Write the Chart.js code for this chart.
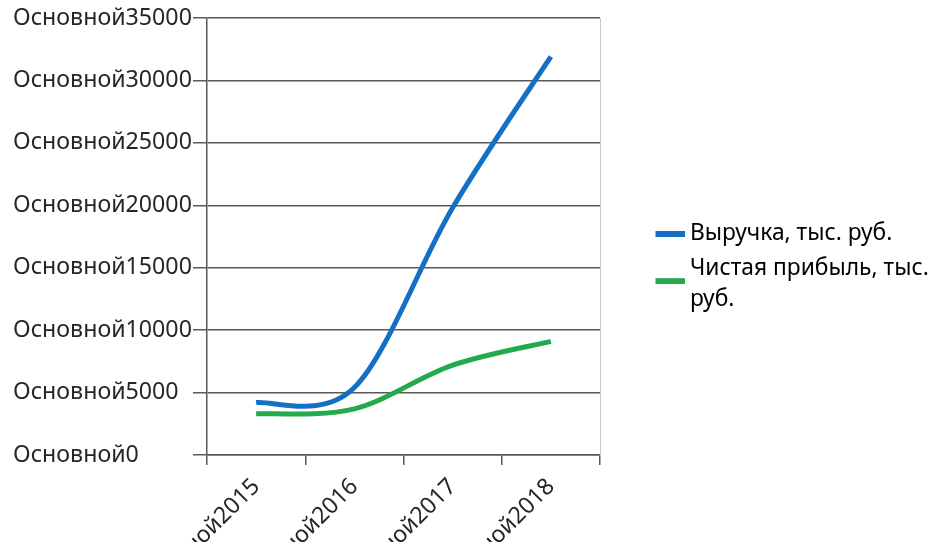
<!DOCTYPE html>
<html>
<head>
<meta charset="utf-8">
<script src="https://cdn.jsdelivr.net/npm/chart.js@4"></script>
<style>
  html, body { margin: 0; padding: 0; background: #fff; }
  #wrap { width: 933px; height: 542px; }
</style>
</head>
<body>
<div id="wrap"><canvas id="c" width="933" height="542"></canvas></div>
<script>
// Years on the category axis
const years = ['Основной2015', 'Основной2016', 'Основной2017', 'Основной2018'];
// Revenue, thousand roubles
const revenue = [4200, 5400, 19800, 31900];
// Net profit, thousand roubles
const netProfit = [3300, 3700, 7200, 9100];
// Value axis tick prefix and legend lines
const tickPrefix = 'Основной';
const revenueLabel = ['Выручка, тыс. руб.'];
const profitLabel = ['Чистая прибыль, тыс.', 'руб.'];

const FONT = 'Noto Sans';
const FONT_SIZE = 23.2;
const LEGEND_SIZE = 22.8;
const TEXT = '#262626';
const gridColor = '#595959';
const blue = '#1470c4';
const green = '#22aa4c';

// Small legend swatch: a short thick line, optionally pushed down
function swatch(color, drop) {
  const c = document.createElement('canvas');
  c.width = 33;
  c.height = 6 + 2 * drop;
  const g = c.getContext('2d');
  g.fillStyle = color;
  g.fillRect(0, drop * 2, 33, 6);
  return c;
}

// Fixed legend column width and a slightly raised legend block
const legendPlacement = {
  id: 'legendPlacement',
  beforeLayout(chart) {
    const lg = chart.legend;
    if (lg && !lg._fixedWidth) {
      const fit = lg.fit;
      lg.fit = function () {
        fit.call(this);
        this.width = 277.5;
      };
      lg._fixedWidth = true;
    }
  },
  afterLayout(chart) {
    if (chart.legend) chart.legend.bottom -= 18;
  }
};

// Uniform Catmull-Rom smoothing of the line through its scaled points
const uniformSpline = {
  id: 'uniformSpline',
  beforeDatasetsDraw(chart) {
    chart.getSortedVisibleDatasetMetas().forEach((meta) => {
      const line = meta.dataset;
      const pts = meta.data;
      if (!line || pts.length < 2) return;
      line.updateControlPoints(chart.chartArea, meta.iScale.axis);
      for (let i = 0; i < pts.length; i++) {
        const p = pts[i];
        const prev = pts[i - 1] || p;
        const next = pts[i + 1] || p;
        const tx = (next.x - prev.x) / 6;
        const ty = (next.y - prev.y) / 6;
        p.cp1x = p.x - tx;
        p.cp1y = p.y - ty;
        p.cp2x = p.x + tx;
        p.cp2y = p.y + ty;
      }
      line._path = undefined;
    });
  }
};

new Chart(document.getElementById('c'), {
  type: 'line',
  data: {
    labels: years,
    datasets: [
      {
        label: revenueLabel.join(' '),
        legendLines: revenueLabel,
        legendDrop: 0,
        data: revenue,
        borderColor: blue,
        backgroundColor: blue,
        borderWidth: 5,
        pointRadius: 0,
        tension: 0.4,
        yAxisID: 'y'
      },
      {
        label: profitLabel.join(' '),
        legendLines: profitLabel,
        legendDrop: 13,
        data: netProfit,
        borderColor: green,
        backgroundColor: green,
        borderWidth: 5,
        pointRadius: 0,
        tension: 0.4,
        yAxisID: 'y'
      }
    ]
  },
  plugins: [legendPlacement, uniformSpline],
  options: {
    responsive: false,
    animation: false,
    layout: { padding: { top: 18, left: 13, right: 0, bottom: 0 } },
    plugins: {
      tooltip: { enabled: false },
      legend: {
        position: 'right',
        labels: {
          usePointStyle: true,
          pointStyleWidth: 20,
          boxHeight: 6,
          padding: 3,
          color: TEXT,
          font: { family: FONT, size: LEGEND_SIZE, lineHeight: 1.38 },
          generateLabels(chart) {
            return chart.data.datasets.map((ds, i) => ({
              text: ds.legendLines,
              fillStyle: ds.borderColor,
              strokeStyle: ds.borderColor,
              lineWidth: 0,
              pointStyle: swatch(ds.borderColor, ds.legendDrop),
              hidden: false,
              datasetIndex: i
            }));
          }
        }
      }
    },
    scales: {
      x: {
        type: 'category',
        offset: true,
        grid: {
          offset: true,
          drawOnChartArea: false,
          drawTicks: true,
          tickLength: 10,
          color: gridColor,
          lineWidth: 1.5
        },
        border: { display: true, color: gridColor, width: 1.5 },
        ticks: {
          minRotation: 45,
          maxRotation: 45,
          padding: 8,
          color: TEXT,
          font: { family: FONT, size: FONT_SIZE }
        },
        afterFit(scale) { scale.height = 87; }
      },
      y: {
        position: 'left',
        min: 0,
        max: 35000,
        grid: {
          color: gridColor,
          lineWidth: 1.5,
          drawTicks: true,
          tickLength: 14
        },
        border: { display: true, color: gridColor, width: 1.5 },
        ticks: {
          stepSize: 5000,
          padding: 0,
          crossAlign: 'far',
          color: TEXT,
          font: { family: FONT, size: FONT_SIZE },
          callback: (v) => tickPrefix + v
        },
        afterFit(scale) { scale.width = 194; }
      },
      frame: {
        position: 'right',
        display: true,
        grid: { display: false },
        ticks: { display: false },
        border: { display: true, color: '#c8c8c8', width: 1 },
        afterFit(scale) { scale.width = 55.5; }
      }
    }
  }
});
</script>
</body>
</html>
